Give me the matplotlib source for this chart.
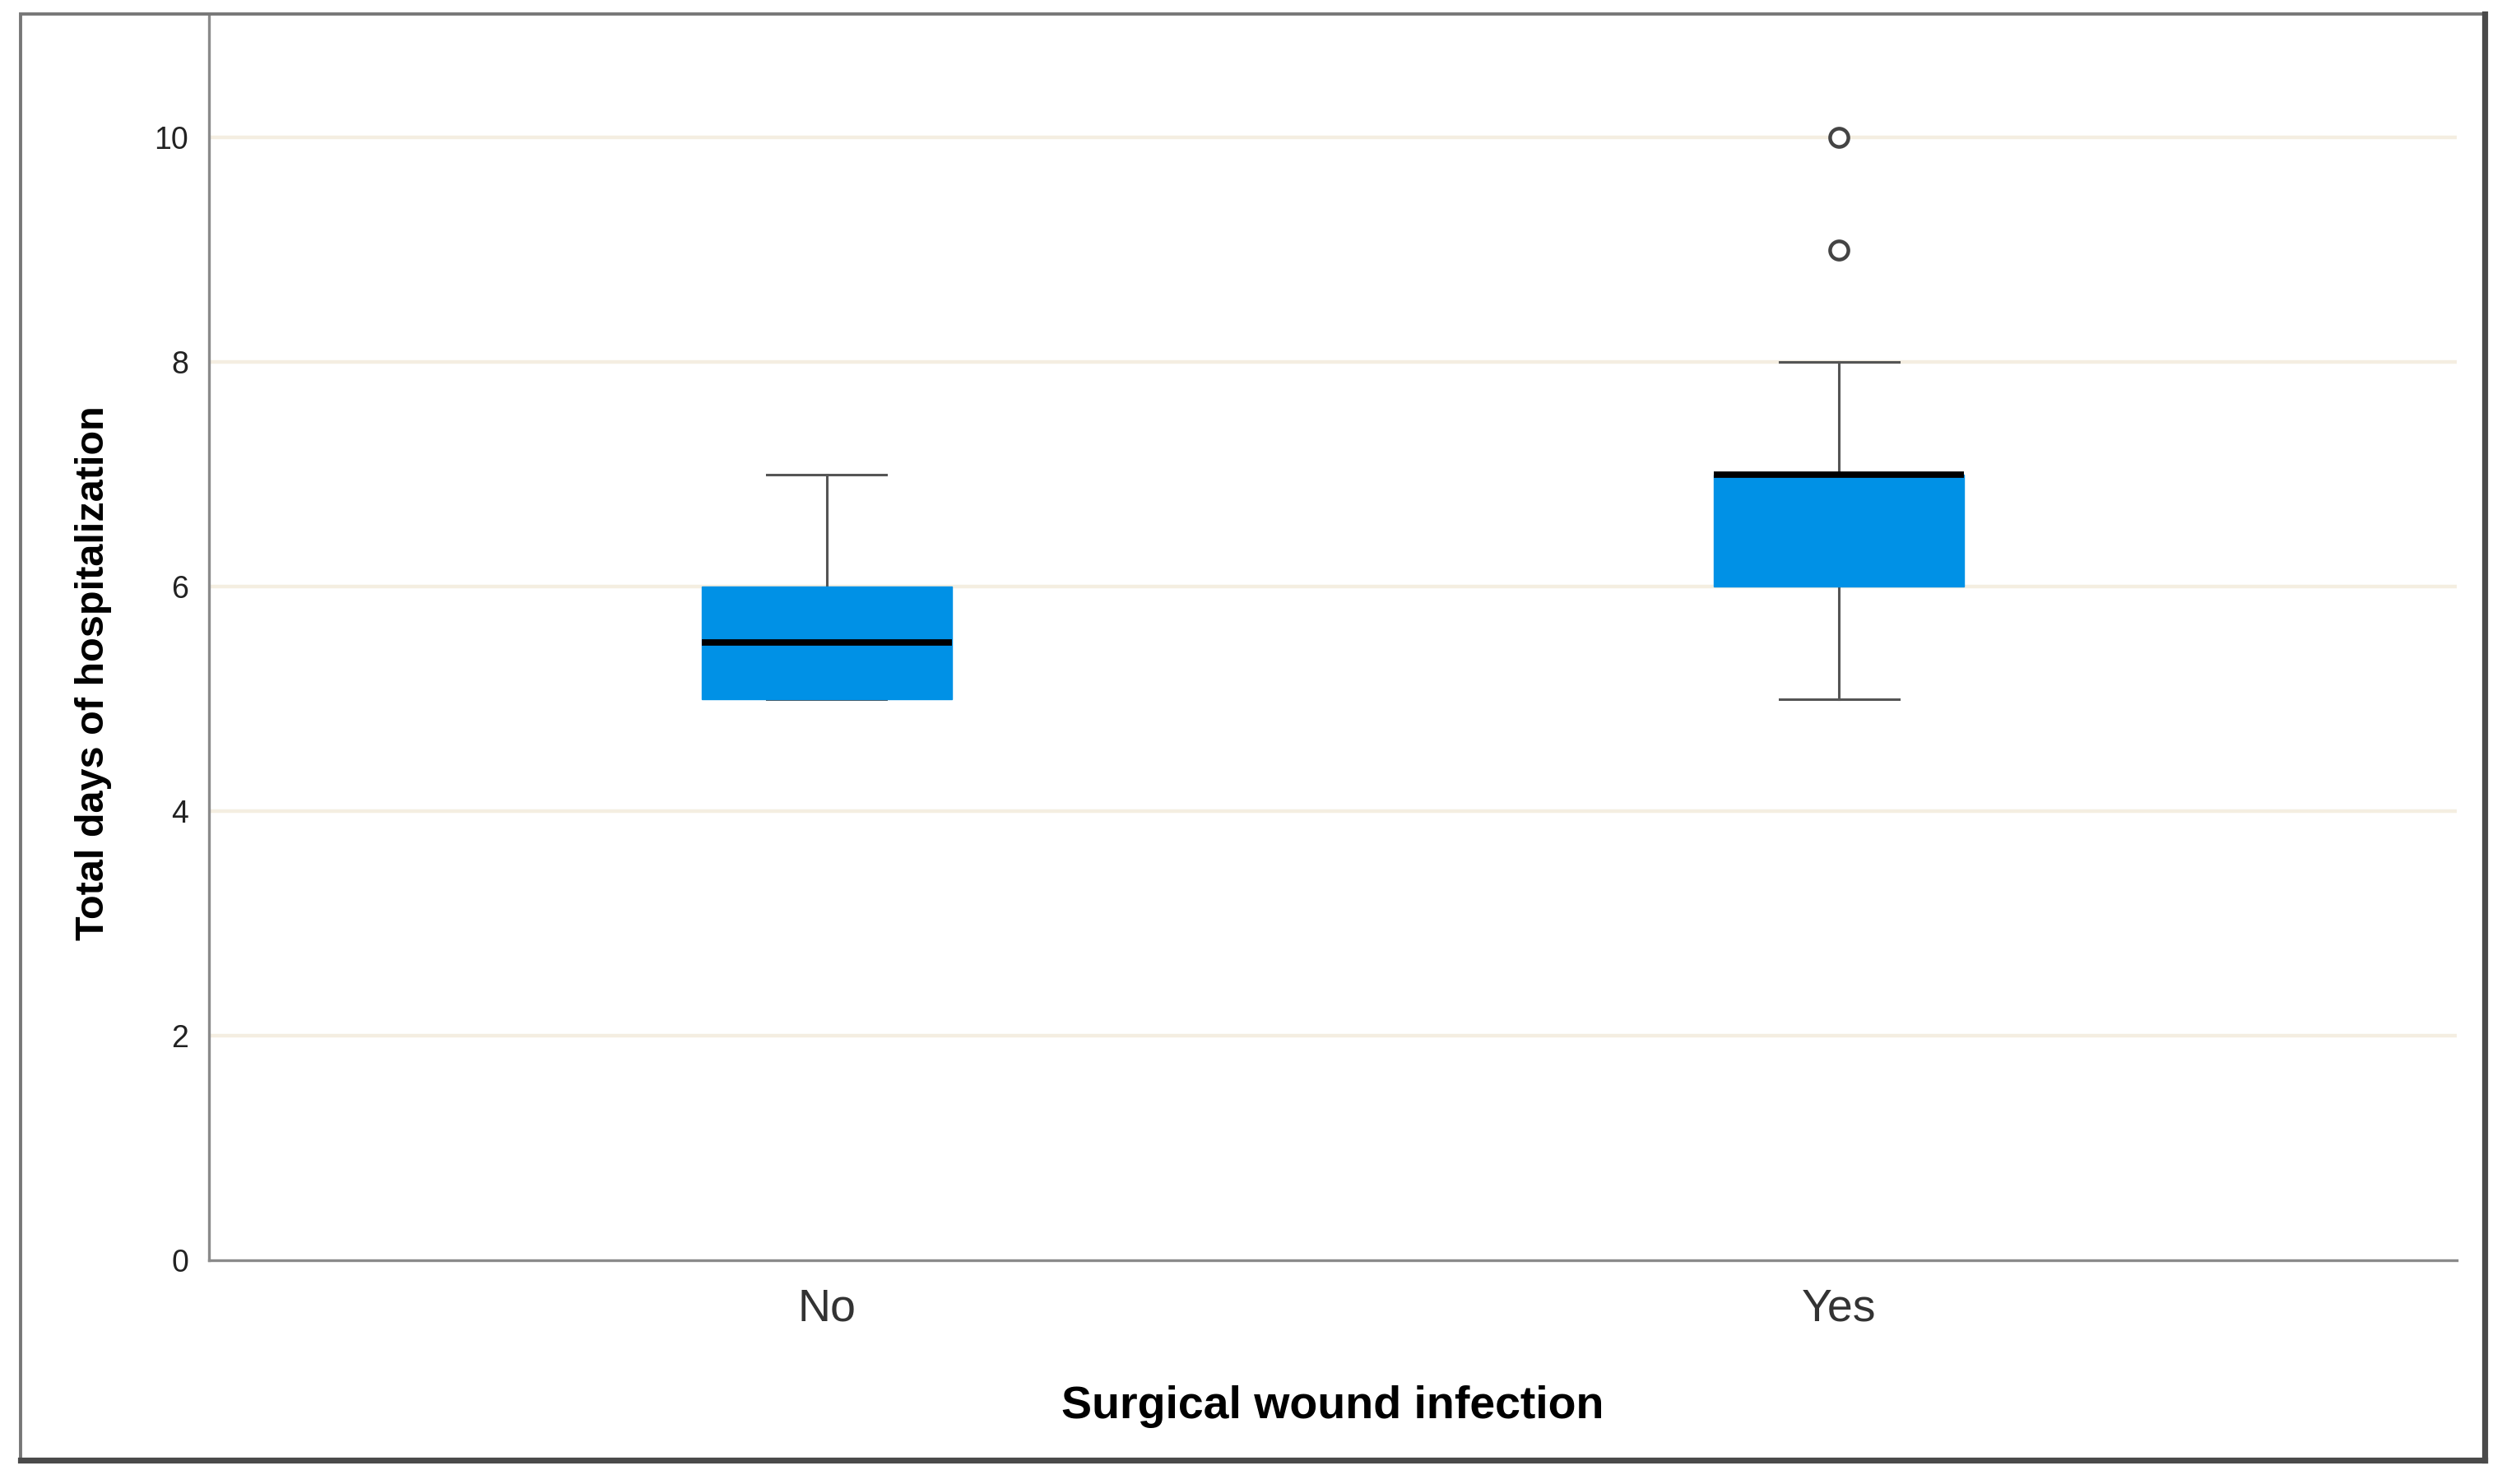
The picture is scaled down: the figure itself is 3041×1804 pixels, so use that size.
# Boxplot of total hospitalization days by surgical wound infection status
import matplotlib
matplotlib.use('Agg')
import matplotlib.pyplot as plt
from matplotlib.patches import Rectangle
from matplotlib.lines import Line2D

# data
categories = ['No', 'Yes']
q1_vals = [5, 6]
median_vals = [5.5, 7]
q3_vals = [6, 7]
whisker_low = [5, 5]
whisker_high = [7, 8]
outliers = [[], [9, 10]]
y_ticks = [0, 2, 4, 6, 8, 10]

plt.rcParams['font.family'] = ['Liberation Sans', 'DejaVu Sans']

fig = plt.figure(figsize=(15.205, 9.02), dpi=200)
ax = fig.add_axes([0.0835, 0.1508, 0.8985, 0.8398])

# build the box stats for bxp
stats = []
for i, name in enumerate(categories):
    stats.append({
        'label': name,
        'q1': q1_vals[i],
        'med': median_vals[i],
        'q3': q3_vals[i],
        'whislo': whisker_low[i],
        'whishi': whisker_high[i],
        'fliers': outliers[i],
    })

box_color = '#0091E6'
ax.bxp(stats, positions=range(len(categories)), widths=0.247, capwidths=0.118,
       patch_artist=True, showfliers=True,
       boxprops=dict(facecolor=box_color, edgecolor=box_color, linewidth=0.5, zorder=3),
       medianprops=dict(color='black', linewidth=2.8, zorder=4, solid_capstyle='butt'),
       whiskerprops=dict(color='#555555', linewidth=1.1, zorder=2),
       capprops=dict(color='#555555', linewidth=1.1, zorder=2),
       flierprops=dict(marker='o', markersize=8, markerfacecolor='white',
                       markeredgecolor='#444444', markeredgewidth=1.6, zorder=3))

# axis limits / ticks
ax.set_xlim(-0.61, 1.61)
ax.set_ylim(0, 11.1)
ax.set_yticks(y_ticks)
ax.set_yticklabels([str(t) for t in y_ticks])
ax.set_xticks(range(len(categories)))
ax.set_xticklabels(categories)
ax.tick_params(axis='y', length=0, pad=9, labelsize=13.5, labelcolor='#222222')
ax.tick_params(axis='x', length=0, pad=12, labelsize=20, labelcolor='#333333')

# faint horizontal gridlines
for t in y_ticks[1:]:
    ax.axhline(t, color='#F4EEE1', linewidth=1.6, zorder=0)

for side in ['top', 'right']:
    ax.spines[side].set_visible(False)
for side in ['left', 'bottom']:
    ax.spines[side].set_color('#8a8a8a')
    ax.spines[side].set_linewidth(1.2)

ax.set_xlabel('Surgical wound infection', fontsize=20, fontweight='bold', labelpad=24)
ax.set_ylabel('Total days of hospitalization', fontsize=17.5, fontweight='bold')
ax.yaxis.set_label_coords(-0.043, 0.471)

# outer frame around the whole picture, with darker bottom/right edge
fig.patches.append(Rectangle((0.0082, 0.016), 0.9848, 0.9746, transform=fig.transFigure,
                             fill=False, edgecolor='#777777', linewidth=1.4))
fig.lines.append(Line2D([0.0082, 0.993], [0.016, 0.016], transform=fig.transFigure,
                        color='#4a4a4a', linewidth=2.6))
fig.lines.append(Line2D([0.993, 0.993], [0.016, 0.9906], transform=fig.transFigure,
                        color='#4a4a4a', linewidth=2.6))

plt.savefig('out.png', dpi=200)
